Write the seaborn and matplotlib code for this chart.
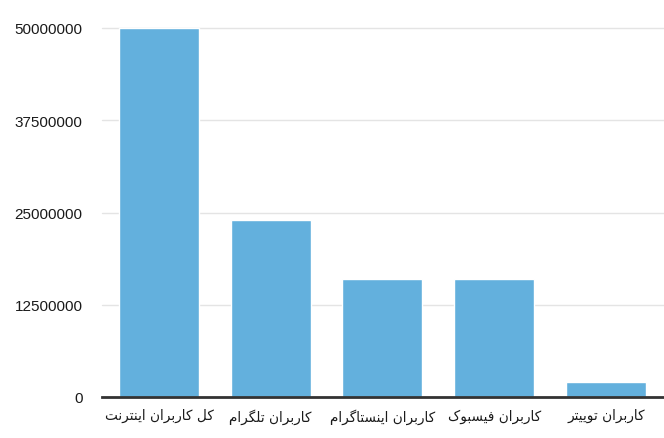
import matplotlib
matplotlib.use("Agg")
import matplotlib.pyplot as plt
import seaborn as sns
import pandas as pd

categories = ["کل کاربران اینترنت", "کاربران تلگرام", "کاربران اینستاگرام",
              "کاربران فیسبوک", "کاربران توییتر"]
values = [50000000, 24000000, 16000000, 16000000, 2000000]
yticks = [0, 12500000, 25000000, 37500000, 50000000]

# Minimal Arabic/Persian shaping (matplotlib has no complex text layout)
FORMS = {
    'ا': ('\ufe8d', '\ufe8e', None, None),
    'ب': ('\ufe8f', '\ufe90', '\ufe91', '\ufe92'),
    'ت': ('\ufe95', '\ufe96', '\ufe97', '\ufe98'),
    'ر': ('\ufead', '\ufeae', None, None),
    'س': ('\ufeb1', '\ufeb2', '\ufeb3', '\ufeb4'),
    'ف': ('\ufed1', '\ufed2', '\ufed3', '\ufed4'),
    'ل': ('\ufedd', '\ufede', '\ufedf', '\ufee0'),
    'م': ('\ufee1', '\ufee2', '\ufee3', '\ufee4'),
    'ن': ('\ufee5', '\ufee6', '\ufee7', '\ufee8'),
    'و': ('\ufeed', '\ufeee', None, None),
    'ک': ('\ufb8e', '\ufb8f', '\ufb90', '\ufb91'),
    'گ': ('\ufb92', '\ufb93', '\ufb94', '\ufb95'),
    'ی': ('\ufbfc', '\ufbfd', '\ufbfe', '\ufbff'),
}


def dual(c):
    return c in FORMS and FORMS[c][2] is not None


def shape(text):
    out = []
    for i, c in enumerate(text):
        if c not in FORMS:
            out.append(c)
            continue
        prev = text[i - 1] if i > 0 else None
        nxt = text[i + 1] if i + 1 < len(text) else None
        pj = prev is not None and dual(prev)
        nj = dual(c) and nxt is not None and nxt in FORMS
        iso, fin, ini, med = FORMS[c]
        if pj and nj:
            out.append(med)
        elif pj:
            out.append(fin)
        elif nj:
            out.append(ini)
        else:
            out.append(iso)
    return "".join(out)[::-1]


sns.set_style("white")
plt.rcParams['font.family'] = ['Liberation Sans', 'DejaVu Sans']

fig = plt.figure(figsize=(6.64, 4.39), dpi=100)
ax = fig.add_axes([102 / 664, 41 / 439, 1 - 102 / 664, 369 / 439])

df = pd.DataFrame({"cat": categories, "val": values})
sns.barplot(data=df, x="cat", y="val", color="#63b0dd", width=0.716,
            saturation=1, ax=ax, zorder=2)

ax.set_xlim(-0.51, 4.52)
ax.set_ylim(0, 50000000)
ax.set_yticks(yticks)
ax.set_yticklabels([str(v) for v in yticks], fontsize=11, color="#1a1a1a")
ax.yaxis.grid(True, color="#e4e4e4", linewidth=1, zorder=0)
ax.set_axisbelow(True)
for gl in ax.get_ygridlines():
    gl.set_clip_on(False)
ax.tick_params(axis="y", length=0, pad=14)
ax.tick_params(axis="x", length=0, pad=8)
ax.set_xticks(range(len(categories)))
ax.set_xticklabels([shape(c) for c in categories], fontsize=9.8,
                   family="DejaVu Sans", color="#1a1a1a")
ax.set_xlabel("")
ax.set_ylabel("")
for s in ["top", "right", "left"]:
    ax.spines[s].set_visible(False)
ax.spines["bottom"].set_color("#333333")
ax.spines["bottom"].set_linewidth(2)
ax.spines["bottom"].set_zorder(3)

fig.savefig("out.png", dpi=100, facecolor="white")
